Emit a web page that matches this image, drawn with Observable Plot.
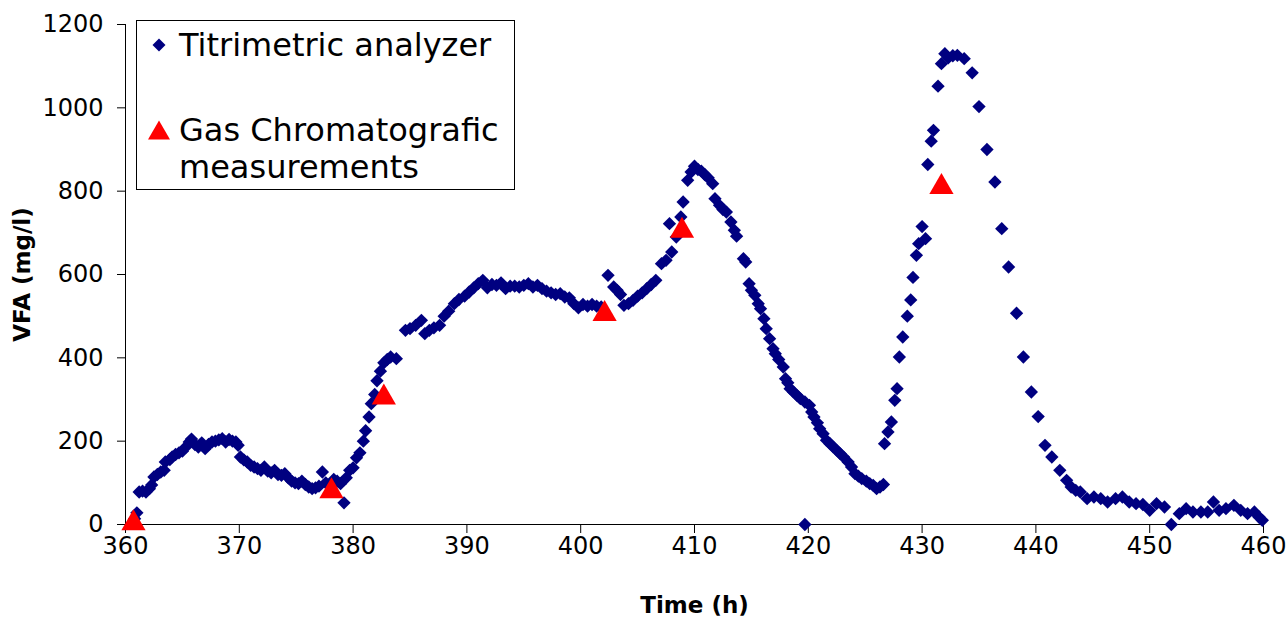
<!DOCTYPE html>
<html>
<head>
<meta charset="utf-8">
<script src="https://cdn.jsdelivr.net/npm/d3@7"></script>
<script src="https://cdn.jsdelivr.net/npm/@observablehq/plot@0.6"></script>
<style>
  html, body { margin: 0; padding: 0; background: white; }
  #wrap { position: relative; width: 1287px; height: 622px; }
  #legend { position: absolute; left: 136px; top: 20px; }
  g[aria-label="x-axis label"] text, g[aria-label="y-axis label"] text { font-weight: bold; font-size: 23px; }
</style>
</head>
<body>
<div id="wrap"></div>
<script>
// ---- data ----
const xTicks = [360, 370, 380, 390, 400, 410, 420, 430, 440, 450, 460];
const yTicks = [0, 200, 400, 600, 800, 1000, 1200];

const titrHours = [
  360.8, 361.0, 361.2, 361.5, 361.8, 362.1, 362.3, 362.5, 362.8, 363.1, 363.4, 363.5, 363.9, 364.1, 364.4, 364.7,
  365.0, 365.3, 365.6, 365.8, 366.1, 366.4, 366.7, 367.0, 367.3, 367.6, 367.9, 368.2, 368.5, 368.8, 369.1, 369.4,
  369.7, 369.9, 370.1, 370.4, 370.7, 371.0, 371.3, 371.6, 371.9, 372.2, 372.5, 372.8, 373.1, 373.4, 373.7, 374.0,
  374.3, 374.6, 374.9, 375.2, 375.5, 375.8, 376.1, 376.4, 376.7, 377.0, 377.3, 377.6, 378.3, 378.6, 378.9, 379.2,
  379.4, 379.7, 380.0, 380.3, 380.6, 380.9, 381.1, 381.4, 381.6, 381.9, 382.1, 382.4, 382.7, 383.0, 383.3, 383.8,
  384.6, 385.0, 385.5, 386.0, 386.3, 386.7, 387.1, 387.6, 388.0, 388.4, 388.9, 389.3, 389.8, 390.2, 390.6, 391.0,
  391.4, 391.8, 392.2, 392.6, 393.0, 393.4, 393.8, 394.2, 394.6, 395.0, 395.4, 395.8, 396.2, 396.6, 397.0, 397.4,
  397.8, 398.2, 398.6, 399.0, 399.4, 399.8, 400.2, 400.6, 401.0, 401.4, 401.8, 402.4, 402.9, 403.2, 403.5, 403.8,
  404.2, 404.6, 405.0, 405.4, 405.8, 406.2, 406.6, 407.1, 407.5, 407.8, 408.0, 408.4, 408.8, 409.0, 409.4, 409.7,
  410.0, 410.3, 410.6, 410.9, 411.2, 411.6, 411.8, 412.2, 412.5, 412.8, 413.2, 413.5, 413.7, 414.3, 414.5, 414.8,
  415.0, 415.3, 415.6, 415.8, 416.1, 416.3, 416.6, 416.9, 417.1, 417.4, 417.8, 418.0, 418.2, 418.4, 418.7, 419.0,
  419.3, 419.7, 419.7, 420.1, 420.3, 420.5, 420.8, 421.0, 421.3, 421.6, 421.9, 422.2, 422.5, 422.8, 423.1, 423.5,
  423.8, 424.1, 424.4, 424.7, 425.1, 425.4, 425.7, 426.0, 426.3, 426.6, 426.7, 427.0, 427.3, 427.6, 427.8, 428.0,
  428.3, 428.7, 429.0, 429.2, 429.5, 429.7, 430.0, 430.3, 430.5, 430.8, 431.0, 431.4, 431.7, 432.0, 432.3, 432.7,
  433.1, 433.7, 434.4, 435.0, 435.7, 436.4, 437.0, 437.6, 438.3, 438.9, 439.6, 440.2, 440.8, 441.4, 442.1, 442.7,
  443.1, 443.5, 443.9, 444.5, 445.1, 445.7, 446.3, 447.0, 447.6, 448.2, 448.8, 449.4, 450.0, 450.6, 451.3, 451.9,
  452.6, 453.2, 453.8, 454.5, 455.1, 455.6, 456.1, 456.7, 457.4, 458.0, 458.6, 459.2, 459.6, 459.9
];
const titrVFA = [
  14, 28, 78, 80, 78, 86, 95, 114, 120, 126, 130, 150, 156, 162, 168, 172,
  176, 186, 198, 205, 192, 186, 196, 182, 192, 198, 200, 203, 206, 198, 204, 200,
  198, 190, 162, 155, 150, 142, 138, 134, 130, 138, 128, 124, 130, 120, 118, 122,
  112, 104, 100, 98, 104, 96, 90, 86, 88, 92, 126, 100, 108, 104, 98, 52,
  112, 130, 136, 160, 172, 200, 225, 258, 290, 312, 345, 368, 388, 396, 402, 398,
  466, 470, 478, 490, 458, 466, 472, 478, 500, 512, 530, 540, 548, 558, 568, 578,
  586, 568, 576, 574, 580, 566, 572, 572, 570, 574, 578, 570, 574, 566, 560, 556,
  552, 554, 546, 544, 530, 520, 528, 524, 528, 524, 522, 598, 570, 562, 552, 526,
  530, 538, 548, 556, 566, 576, 586, 626, 634, 722, 654, 690, 738, 774, 826, 846,
  860, 852, 848, 840, 832, 818, 782, 766, 756, 750, 726, 706, 692, 638, 630, 578,
  562, 550, 530, 518, 494, 470, 446, 422, 410, 396, 378, 350, 340, 326, 318, 310,
  302, 294, 0, 286, 270, 258, 244, 230, 218, 202, 194, 186, 178, 170, 162, 150,
  138, 122, 116, 110, 104, 98, 94, 86, 90, 96, 194, 222, 246, 298, 326, 402,
  450, 500, 539, 593, 646, 674, 715, 686, 864, 920, 946, 1052, 1106, 1130, 1120, 1125,
  1126, 1118, 1084, 1003, 900, 822, 710, 618, 507, 402, 318, 259, 190, 162, 130, 106,
  90, 82, 78, 62, 66, 62, 54, 62, 66, 54, 50, 48, 34, 50, 42, 0,
  26, 38, 30, 30, 30, 54, 34, 38, 46, 34, 26, 30, 18, 10
];

const gcHours = [360.7, 378.1, 382.7, 402.1, 408.9, 431.7];
const gcVFA = [3, 80, 305, 505, 705, 810];

const seriesNames = ["Titrimetric analyzer", "Gas Chromatografic", "measurements"];

// ---- tables ----
const titr = titrHours.map((h, i) => ({h, v: titrVFA[i]}));
const gc = gcHours.map((h, i) => ({h, v: gcVFA[i]}));

const chart = Plot.plot({
  width: 1287,
  height: 622,
  marginLeft: 125,
  marginRight: 24,
  marginTop: 24,
  marginBottom: 98,
  style: {fontFamily: "DejaVu Sans", fontSize: "24px", color: "black", background: "white", overflow: "visible"},
  x: {domain: [xTicks[0], xTicks[xTicks.length - 1]]},
  y: {domain: [yTicks[0], yTicks[yTicks.length - 1]]},
  marks: [
    Plot.axisX({ticks: xTicks, tickSize: 9, tickPadding: 3, tickFormat: d => String(d), fontSize: 24,
      label: "Time (h)", labelAnchor: "center", labelOffset: 88, labelArrow: "none"}),
    Plot.axisY({ticks: yTicks, tickSize: 8, tickPadding: 14, tickFormat: d => String(d), fontSize: 24,
      label: "VFA (mg/l)", labelAnchor: "center", labelOffset: 112, labelArrow: "none"}),
    Plot.ruleX([xTicks[0]], {stroke: "black"}),
    Plot.ruleY([yTicks[0]], {stroke: "black"}),
    Plot.dot(titr, {x: "h", y: "v", symbol: "diamond2", r: 6, fill: "#000080", stroke: "none"}),
    Plot.dot(gc, {x: "h", y: "v", symbol: "triangle", r: 9, fill: "#ff0000", stroke: "none"})
  ]
});

const wrap = document.getElementById("wrap");
wrap.appendChild(chart);

// ---- legend (overlay inside plot area) ----
const ns = "http://www.w3.org/2000/svg";
const lg = document.createElementNS(ns, "svg");
lg.setAttribute("id", "legend");
lg.setAttribute("width", 380);
lg.setAttribute("height", 171);
lg.innerHTML = `
  <rect x="0.5" y="0.5" width="378" height="169" fill="white" stroke="black" stroke-width="1"></rect>
  <path d="M23,18.5 L29.5,25 L23,31.5 L16.5,25 Z" fill="#000080"></path>
  <path d="M23,100.5 L34,119.5 L12,119.5 Z" fill="#ff0000"></path>
  <g font-family="DejaVu Sans" font-size="32" fill="black">
    <text x="43" y="36">${seriesNames[0]}</text>
    <text x="43" y="121">${seriesNames[1]}</text>
    <text x="43" y="158">${seriesNames[2]}</text>
  </g>`;
wrap.appendChild(lg);
</script>
</body>
</html>
